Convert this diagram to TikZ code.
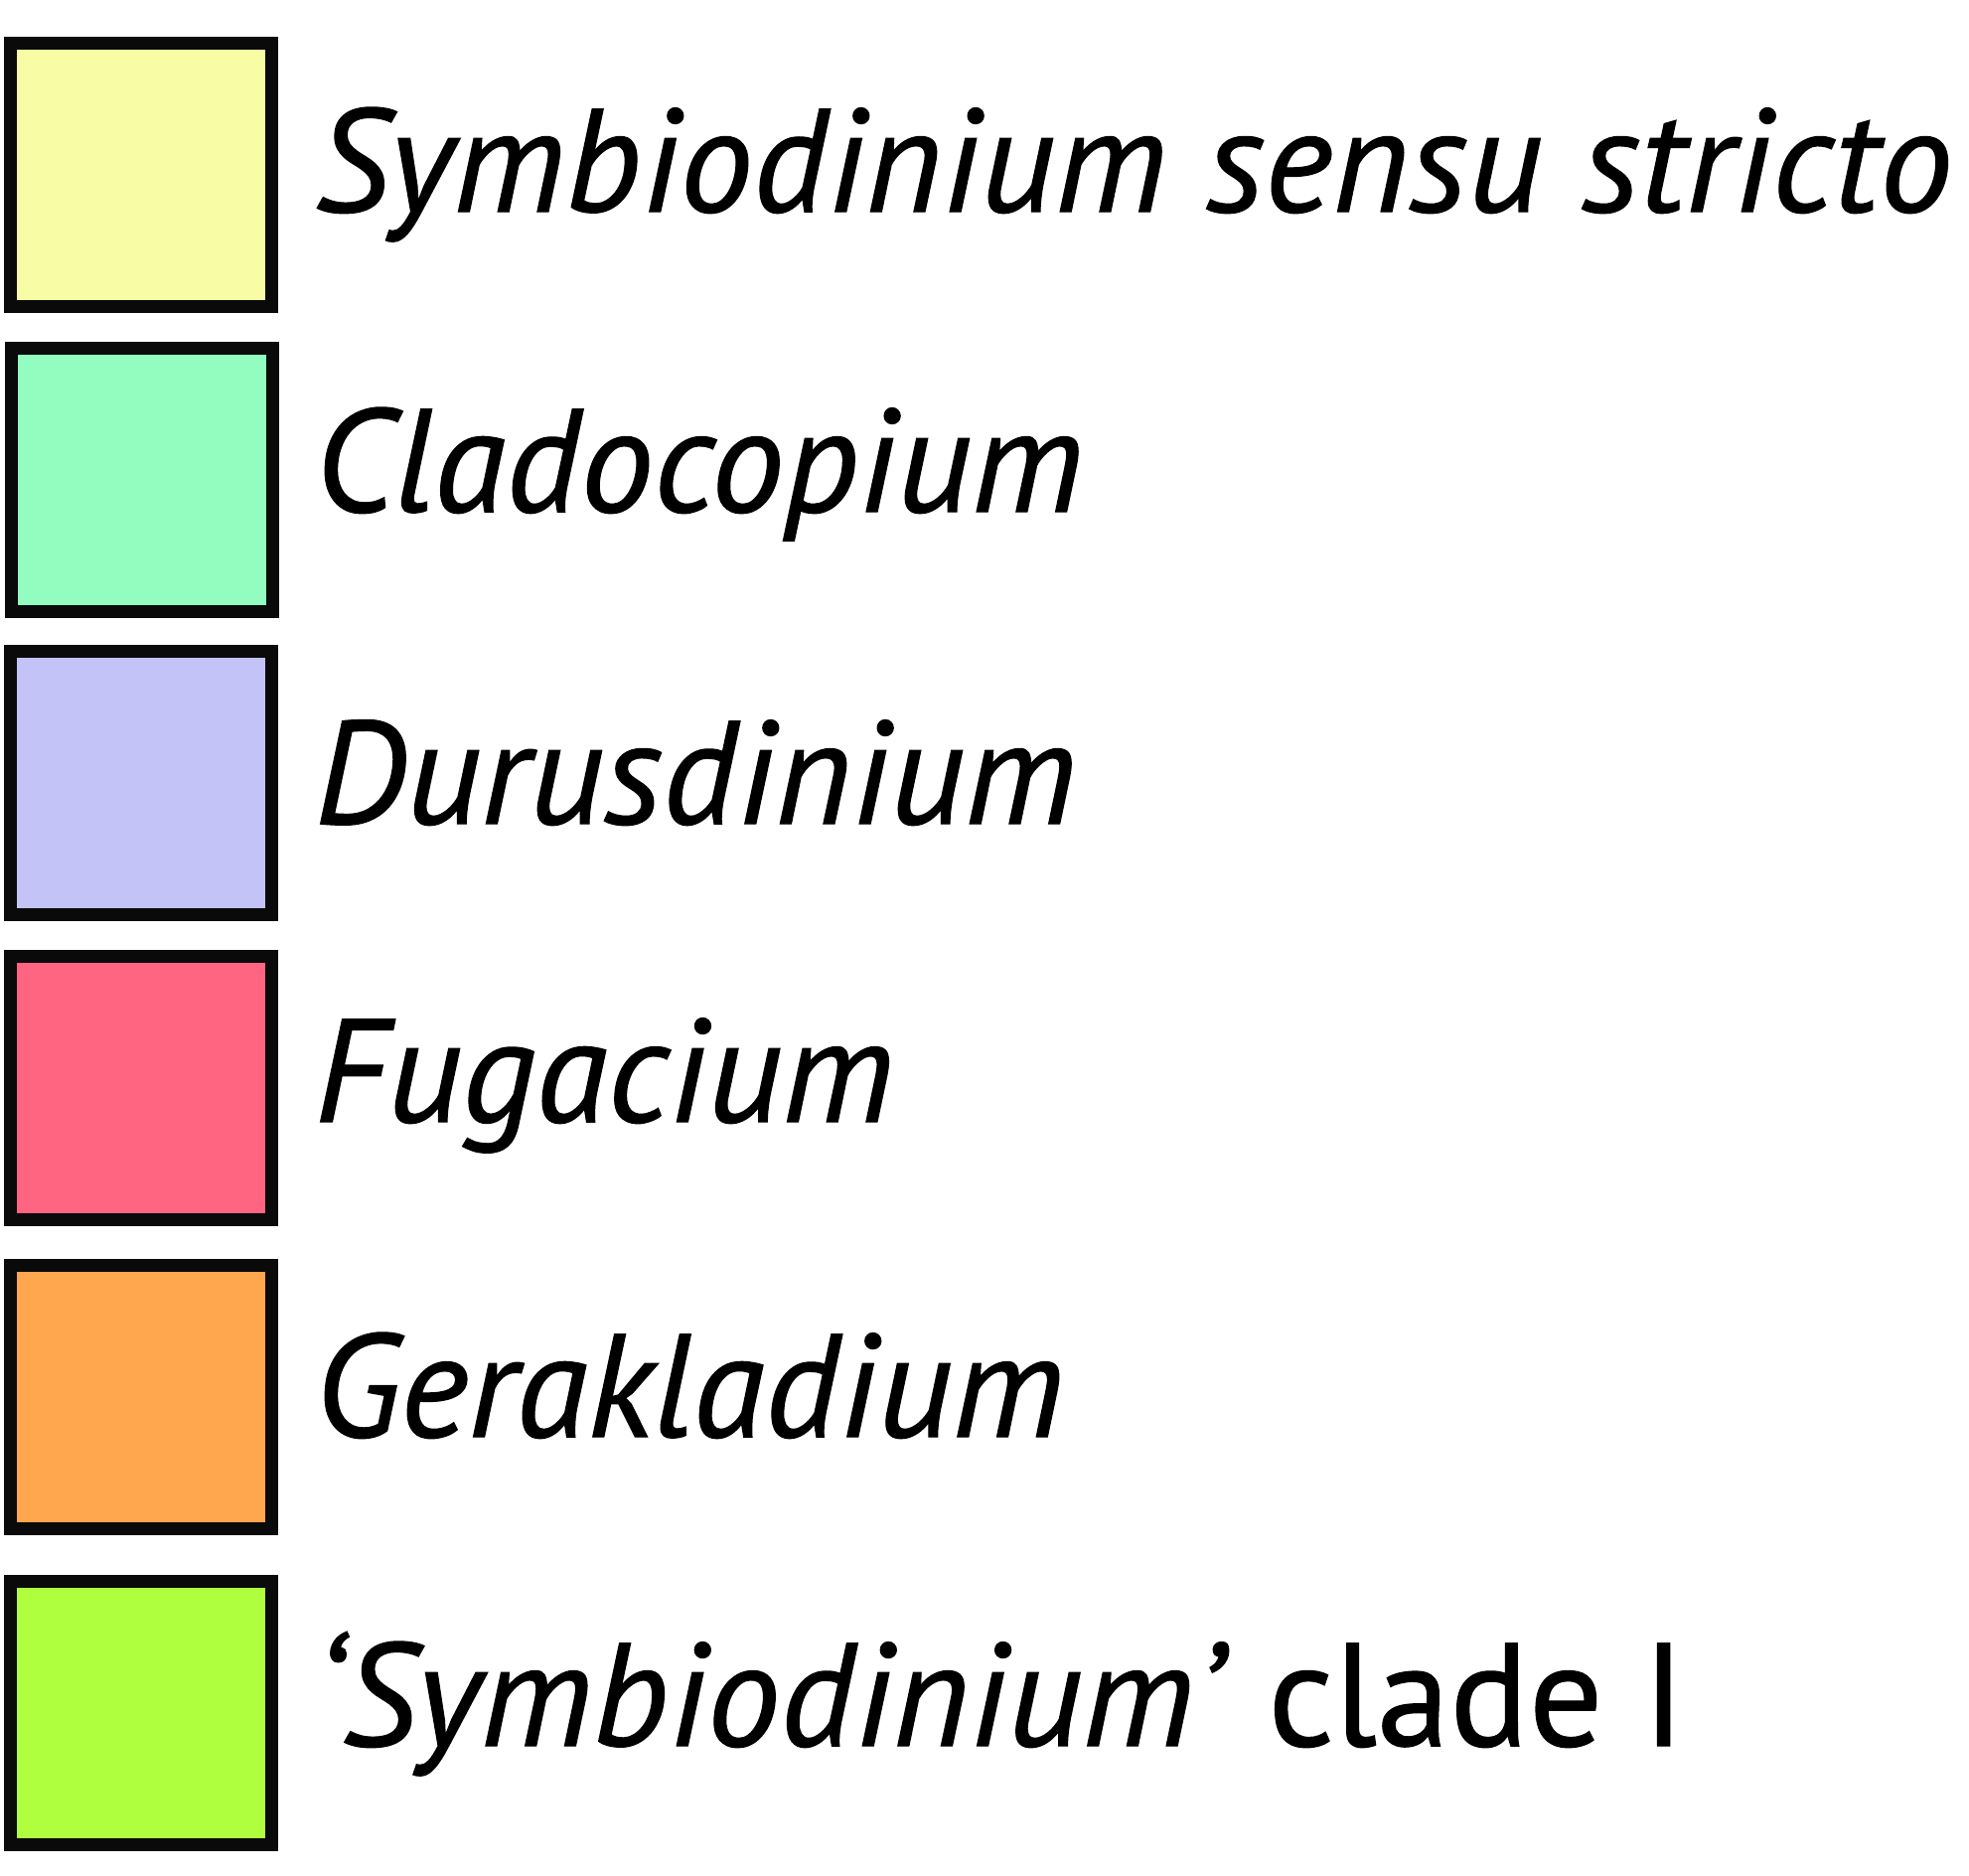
\documentclass[tikz,border=0pt]{standalone}
\usepackage{fontspec}
\setmainfont{PT Sans}[ItalicFeatures={FakeBold=0.8},UprightFeatures={FakeBold=0.8}]
\usepackage{xcolor}
\usepackage{tikz}
\usetikzlibrary{positioning,calc}
\definecolor{ink}{HTML}{0a0a0a}
\definecolor{sss}{HTML}{f8fca4}
\definecolor{clado}{HTML}{93fdbf}
\definecolor{duru}{HTML}{c3c3f7}
\definecolor{fuga}{HTML}{ff6481}
\definecolor{gera}{HTML}{fea74f}
\definecolor{cladeI}{HTML}{afff3f}
\newcommand{\genus}[1]{\textit{#1}}

\begin{document}
\begin{tikzpicture}[x=0.01cm,y=-0.01cm,
  swatch/.style={draw=ink,line width=0.13cm,minimum width=2.63cm,minimum height=2.65cm,inner sep=0pt},
  lbl/.style={anchor=base west,inner sep=0pt,font=\fontsize{42}{50}\selectfont}]
  \useasboundingbox (0,0) rectangle (1982,1887);
  \node[swatch,fill=sss] (s1) at (142,176) {};
  \node[swatch,fill=clado] (s2) at (143,483) {};
  \node[swatch,fill=duru] (s3) at (142,788) {};
  \node[swatch,fill=fuga] (s4) at (142,1095) {};
  \node[swatch,fill=gera] (s5) at (142,1406) {};
  \node[swatch,fill=cladeI] (s6) at (142,1724) {};
  \node[lbl] (t1) at (316,213) {\genus{Symbiodinium sensu stricto}};
  \node[lbl] (t2) at (316,515) {\genus{Cladocopium}};
  \node[lbl] (t3) at (316,829) {\genus{Durusdinium}};
  \node[lbl] (t4) at (316,1129) {\genus{Fugacium}};
  \node[lbl] (t5) at (316,1446) {\genus{Gerakladium}};
  \node[lbl] (t6) at (316,1757) {\genus{`Symbiodinium'} clade I};
\end{tikzpicture}
\end{document}
